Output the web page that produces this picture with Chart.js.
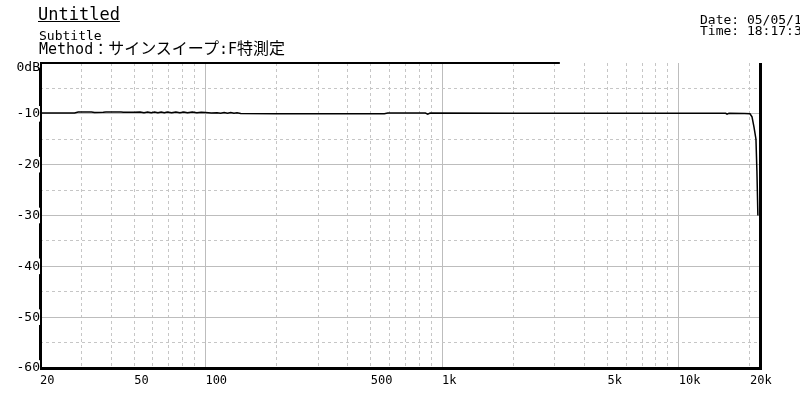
<!DOCTYPE html>
<html>
<head>
<meta charset="utf-8">
<script src="https://cdn.jsdelivr.net/npm/chart.js@4/dist/chart.umd.min.js"></script>
<style>
  body { margin: 0; background: #fff; }
  #wrap { position: relative; width: 800px; height: 400px; overflow: hidden; }
  #wrap div { position: absolute; white-space: pre; line-height: 1; color: #000;
              font-family: "DejaVu Sans Mono", "Noto Sans CJK JP", monospace; }
  .title { left: 38px; top: 6px; font-size: 17px; text-decoration: underline; }
  .sub { left: 39px; top: 29px; font-size: 13px; }
  .method { left: 39px; top: 41px; font-size: 15px; }
  .method span { font-size: 16px; }
  .info { left: 700px; font-size: 13px; }
</style>
</head>
<body>
<div id="wrap">
  <canvas id="grafico" width="800" height="400"></canvas>
  <div class="title">Untitled</div>
  <div class="sub">Subtitle</div>
  <div class="method">Method：<span>サインスイープ</span>:F<span>特測定</span></div>
  <div class="info" style="top:13px">Date: 05/05/1</div>
  <div class="info" style="top:24px">Time: 18:17:3</div>
</div>
<script>
// Frecuencias de las rejillas y etiquetas
const freqTicks = [20, 30, 40, 50, 60, 70, 80, 90, 100, 200, 300, 400, 500, 600, 700, 800, 900,
  1000, 2000, 3000, 4000, 5000, 6000, 7000, 8000, 9000, 10000, 20000];
const freqLabels = { 20: '20', 50: '50', 100: '100', 500: '500', 1000: '1k', 5000: '5k', 10000: '10k', 20000: '20k' };
const dbTicks = [0, -5, -10, -15, -20, -25, -30, -35, -40, -45, -50, -55, -60];
const dbLabels = { 0: ['', '0dB'], '-10': '-10', '-20': '-20', '-30': '-30', '-40': '-40', '-50': '-50', '-60': '-60' };

// Respuesta medida (Hz, dB)
const freq = [20, 25, 28, 29, 33, 34, 37, 38, 44, 45, 50, 53, 55, 57, 59, 61, 63, 65, 67, 69, 72, 75, 78,
  81, 84, 88, 92, 96, 100, 106, 112, 116, 120, 124, 128, 132, 136, 141, 200, 400, 570, 590, 850, 870, 890,
  2000, 10000, 15800, 16000, 16300, 19000, 20000, 20400, 20800, 21200, 21400, 21600];
const level = [-9.85, -9.85, -9.85, -9.65, -9.65, -9.75, -9.7, -9.65, -9.65, -9.7, -9.7, -9.65, -9.8, -9.65,
  -9.8, -9.65, -9.8, -9.65, -9.8, -9.65, -9.8, -9.65, -9.8, -9.65, -9.8, -9.65, -9.8, -9.7, -9.72, -9.85,
  -9.8, -9.9, -9.75, -9.9, -9.75, -9.9, -9.8, -9.95, -9.97, -9.97, -9.97, -9.85, -9.85, -10.05, -9.85,
  -9.87, -9.9, -9.9, -10.05, -9.9, -9.95, -10.0, -10.6, -12.6, -15, -21.3, -30];

const fuente = 'DejaVu Sans Mono';
const mayorX = v => v === 100 || v === 1000 || v === 10000;
const conEtiqueta = c => !!(c.tick && dbLabels[c.tick.value]);

// Marco negro; las etiquetas del eje Y (z: 1) lo tapan con su fondo blanco
const marco = {
  id: 'marco',
  afterDatasetsDraw(chart) {
    const { ctx, chartArea: a } = chart;
    ctx.save();
    ctx.strokeStyle = '#000';
    ctx.lineWidth = 3;
    ctx.beginPath();
    ctx.moveTo(a.left + 0.5, a.top);
    ctx.lineTo(a.left + 0.5, a.bottom + 0.5);
    ctx.lineTo(a.right + 0.5, a.bottom + 0.5);
    ctx.lineTo(a.right + 0.5, a.top);
    ctx.stroke();
    ctx.lineWidth = 2;
    ctx.beginPath();
    ctx.moveTo(a.left, a.top);
    ctx.lineTo(a.left + (a.right - a.left) * 0.722, a.top);
    ctx.stroke();
    ctx.restore();
  }
};

const config = {
  type: 'line',
  data: {
    datasets: [{
      data: freq.map((f, i) => ({ x: f, y: level[i] })),
      borderColor: '#000',
      borderWidth: 1.5,
      pointRadius: 0,
      tension: 0,
      fill: false
    }]
  },
  options: {
    responsive: false,
    animation: false,
    devicePixelRatio: 1,
    layout: { padding: { top: 63, right: 40, left: 0, bottom: 0 } },
    plugins: { legend: { display: false }, tooltip: { enabled: false } },
    scales: {
      x: {
        type: 'logarithmic',
        min: 20,
        max: 22050,
        afterBuildTicks: s => { s.ticks = freqTicks.map(v => ({ value: v })); },
        afterFit: s => { s.height = 32; s.paddingLeft = 0; s.paddingRight = 0; },
        grid: {
          drawTicks: false,
          lineWidth: 1,
          color: c => (c.tick && mayorX(c.tick.value)) ? '#bdbdbd' : '#c6c6c6'
        },
        border: {
          display: false,
          dash: c => (c.tick && !mayorX(c.tick.value)) ? [3, 3] : []
        },
        ticks: {
          autoSkip: false, maxRotation: 0, minRotation: 0, align: 'start', padding: 6,
          color: '#000', font: { family: fuente, size: 12 },
          callback: v => freqLabels[v] || ''
        }
      },
      y: {
        type: 'linear',
        min: -60,
        max: 0,
        afterBuildTicks: s => { s.ticks = dbTicks.map(v => ({ value: v })); },
        afterFit: s => { s.width = 40; s.paddingTop = 0; s.paddingBottom = 0; },
        grid: {
          drawTicks: false,
          lineWidth: 1,
          color: c => {
            if (!c.tick || c.tick.value === 0) return 'rgba(0,0,0,0)';
            return c.tick.value % 10 === 0 ? '#bdbdbd' : '#c6c6c6';
          }
        },
        border: {
          display: false,
          dash: c => (c.tick && c.tick.value % 10 !== 0) ? [3, 3] : []
        },
        ticks: {
          z: 1, autoSkip: false, padding: 0, color: '#000',
          font: c => (c.tick && c.tick.value === 0)
            ? { family: fuente, size: 13, lineHeight: '9px' }
            : { family: fuente, size: 13 },
          showLabelBackdrop: conEtiqueta,
          backdropColor: c => conEtiqueta(c) ? '#fff' : 'rgba(0,0,0,0)',
          backdropPadding: { x: 2, y: 0 },
          callback: v => dbLabels[v] || ''
        }
      }
    }
  },
  plugins: [marco]
};

const ctx = document.getElementById('grafico').getContext('2d');
new Chart(ctx, config);
</script>
</body>
</html>
